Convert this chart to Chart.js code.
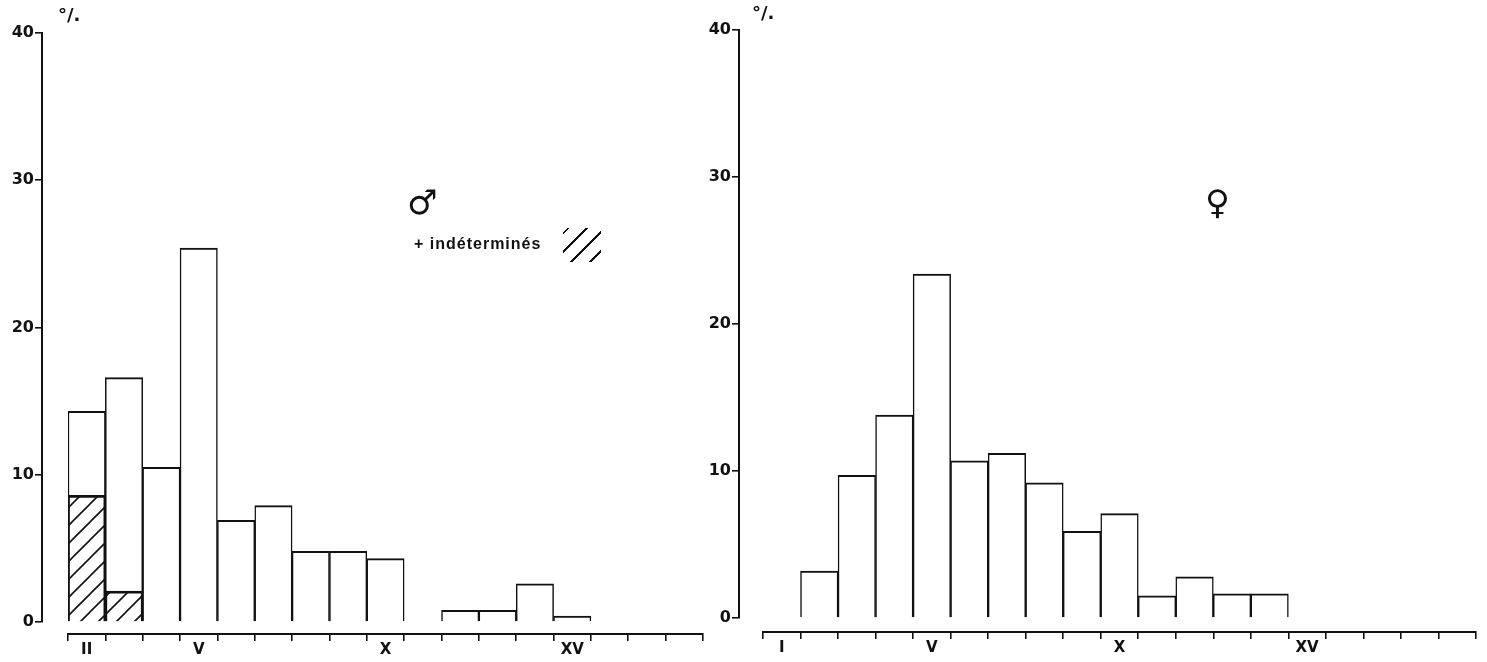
<!DOCTYPE html>
<html>
<head>
<meta charset="utf-8">
<script src="https://cdn.jsdelivr.net/npm/chart.js@4.4.1/dist/chart.umd.min.js"></script>
<style>
  html, body { margin: 0; padding: 0; background: #fff; }
  #wrap { position: relative; width: 1487px; height: 662px; overflow: hidden; }
  #wrap canvas { position: absolute; left: 0; top: 0; }
  .txt { position: absolute; font-family: "DejaVu Sans", sans-serif; font-weight: bold; color: #111; white-space: nowrap; }
  #swatch { position: absolute; left: 563px; top: 228px; width: 38px; height: 34px;
    background: repeating-linear-gradient(-45deg, transparent 0 7px, #111 7px 9px, transparent 9px 13px); }
</style>
</head>
<body>
<div id="wrap">
  <canvas id="cLeft" width="1487" height="662"></canvas>
  <canvas id="cRight" width="1487" height="662"></canvas>
  <div class="txt" style="left:58px;top:4px;font-size:18px;">°/.</div>
  <div class="txt" style="left:752px;top:2px;font-size:18px;">°/.</div>
  <div class="txt" style="left:407px;top:182px;font-size:34px;font-weight:normal;">♂</div>
  <div class="txt" style="left:414px;top:235px;font-size:16px;font-family:'Liberation Sans',sans-serif;letter-spacing:1px;">+ indéterminés</div>
  <div id="swatch"></div>
  <div class="txt" style="left:1205px;top:182px;font-size:34px;font-weight:normal;">♀</div>
</div>
<script>
// ---------------- data ----------------
const leftCats   = ["II","III","IV","V","VI","VII","VIII","IX","X","XI","XII","XIII","XIV","XV","XVI","XVII","XVIII"];
const leftTotals = [14.3, 16.6, 10.5, 25.4, 6.9, 7.9, 4.8, 4.8, 4.3, null, 0.8, 0.8, 2.6, 0.4, null, null, null];
const leftIndet  = [8.6, 2.1, null, null, null, null, null, null, null, null, null, null, null, null, null, null, null];
const leftShown  = ["II","V","X","XV"];

const rightCats  = ["I","II","III","IV","V","VI","VII","VIII","IX","X","XI","XII","XIII","XIV","XV","XVI","XVII","XVIII","XIX"];
const rightVals  = [null, 3.2, 9.7, 13.8, 23.4, 10.7, 11.2, 9.2, 5.9, 7.1, 1.5, 2.8, 1.65, 1.65, null, null, null, null, null];
const rightShown = ["I","V","X","XV"];

const yTicks = [0, 10, 20, 30, 40];

// ---------------- helpers ----------------
function hatch() {
  const c = document.createElement("canvas");
  c.width = 18; c.height = 18;
  const g = c.getContext("2d");
  g.strokeStyle = "#111";
  g.lineWidth = 1.6;
  g.beginPath();
  g.moveTo(0, 18); g.lineTo(18, 0);
  g.moveTo(-4, 4); g.lineTo(4, -4);
  g.moveTo(14, 22); g.lineTo(22, 14);
  g.stroke();
  return g.createPattern(c, "repeat");
}

const font = { family: "DejaVu Sans", size: 16, weight: "bold" };
const border = { top: 2, left: 1.5, right: 1.5, bottom: 0 };

function makeChart(id, cats, shown, datasets, pad, yAxisAt, xAxisAt) {
  return new Chart(document.getElementById(id), {
    type: "bar",
    data: { labels: cats, datasets },
    options: {
      responsive: false,
      animation: false,
      layout: { padding: pad },
      plugins: { legend: { display: false }, tooltip: { enabled: false } },
      scales: {
        x: {
          position: { y: xAxisAt },
          grid: { display: true, drawOnChartArea: false, offset: true, color: "#111", lineWidth: 1.6, tickLength: 6 },
          border: { display: true, color: "#111", width: 2 },
          ticks: {
            autoSkip: false, maxRotation: 0, padding: 1, color: "#111", font: { ...font, size: 15 },
            callback: (v, i) => shown.includes(cats[i]) ? cats[i] : ""
          }
        },
        y: {
          position: { x: yAxisAt },
          min: 0, max: 40,
          afterBuildTicks: s => { s.ticks = yTicks.map(v => ({ value: v })); },
          grid: { display: true, drawOnChartArea: false, color: "#111", lineWidth: 1.6, tickLength: 6 },
          border: { display: true, color: "#111", width: 2 },
          ticks: { color: "#111", font, callback: v => v + "\u2002" }
        }
      }
    }
  });
}

const pat = hatch();

makeChart("cLeft", leftCats, leftShown, [
  { data: leftIndet, backgroundColor: pat, borderColor: "#111", borderWidth: border, borderSkipped: "bottom",
    grouped: false, barPercentage: 1, categoryPercentage: 1 },
  { data: leftTotals, backgroundColor: "#fff", borderColor: "#111", borderWidth: border, borderSkipped: "bottom",
    grouped: false, barPercentage: 1, categoryPercentage: 1 }
], { left: 68, right: 784, top: 33, bottom: 40 }, -1.196, -0.82);

makeChart("cRight", rightCats, rightShown, [
  { data: rightVals, backgroundColor: "#fff", borderColor: "#111", borderWidth: border, borderSkipped: "bottom",
    barPercentage: 1, categoryPercentage: 1 }
], { left: 763, right: 11, top: 30, bottom: 44 }, -1.14, -0.95);
</script>
</body>
</html>
